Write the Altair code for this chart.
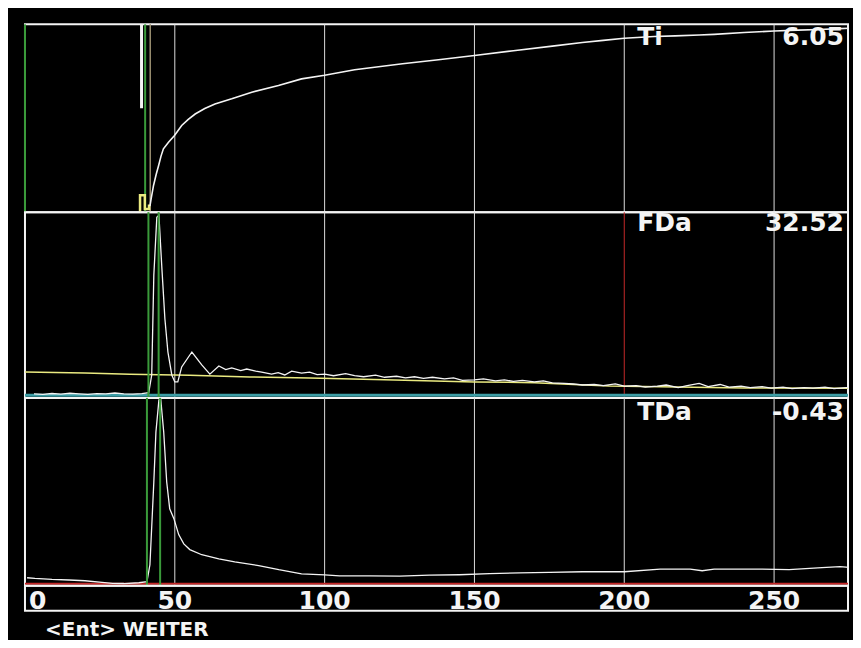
import altair as alt
import pandas as pd

# ---------------- data ----------------
GRID_TICKS = [50, 100, 150, 200, 250]
AXIS_TICKS = [0, 50, 100, 150, 200, 250]
X_DOMAIN = [0, 274.67]

TI_DOMAIN = [0, 6.2]
FDA_DOMAIN = [-0.5, 35.5]
TDA_DOMAIN = [-0.4, 36]
STRIP_DOMAIN = [0, 1]

# Ti (top panel)
TI_T = [41.7, 42.1, 42.9, 43.8, 44.6, 45.4, 46.2, 47.9, 49.9, 52.3, 54.5, 56.8, 60, 63.4,
        69, 75.7, 84.6, 92.3, 100, 110, 126, 138, 150, 163, 176, 186, 193, 200, 210, 217,
        225, 230, 240, 250, 258, 265, 272, 278.7]
TI_V = [0.2, 0.44, 0.88, 1.25, 1.54, 1.85, 2.09, 2.31, 2.53, 2.86, 3.06, 3.24, 3.42, 3.57,
        3.74, 3.96, 4.18, 4.40, 4.52, 4.70, 4.90, 5.03, 5.17, 5.33, 5.48, 5.60, 5.67, 5.74,
        5.80, 5.82, 5.85, 5.87, 5.93, 5.98, 6.01, 6.03, 6.06, 6.08]
TI_SPIKE_T = [38.9]
TI_SPIKE_LO = [3.43]
TI_SPIKE_HI = [6.2]
TI_PRE_T = [38.4, 38.4, 40.0, 40.0, 41.4, 41.4]
TI_PRE_V = [0.0, 0.56, 0.56, 0.1, 0.1, 0.25]
TI_MARK_GREEN = [0, 40.1]
TI_MARK_TAN = [41.8]

# FDa (middle panel)
FDA_T = [3, 6, 9, 12, 15, 18, 21, 24, 27, 30, 33, 36, 39, 41.3,
         42.3, 43, 44, 44.7, 45.7, 46.7, 47.7, 49, 50, 51, 52.3, 55.7, 59, 61.7, 64.7,
         67, 69, 72, 74, 77, 79, 82.3, 84.5, 86.7, 89, 92.3, 95, 97.5, 100, 103, 107,
         110, 113, 117, 120, 124, 127, 130, 133, 136, 140, 143, 146, 150, 153, 157, 160,
         163, 166, 170, 173, 176, 180, 183, 186, 190, 193, 197, 200, 204, 207, 211, 214,
         218, 221, 225, 228, 232, 235, 239, 242, 246, 249, 253, 256, 260, 263, 267, 270,
         274, 278.7]
FDA_V = [0.3, 0.2, 0.35, 0.25, 0.4, 0.3, 0.2, 0.35, 0.3, 0.45, 0.3, 0.25, 0.35, 0.5,
         3.95, 23.3, 34.5, 34.9, 24.5, 14.8, 8.4, 3.95, 2.6, 2.6, 5.5, 8.4, 5.9, 4.1, 5.7,
         5.0, 5.3, 4.8, 5.1, 4.7, 4.5, 4.1, 4.4, 3.95, 4.7, 4.3, 4.5, 4.0, 4.1, 3.8, 4.2,
         3.8, 3.6, 3.9, 3.5, 3.7, 3.4, 3.6, 3.3, 3.5, 3.2, 3.4, 2.9, 3.0, 3.2, 2.8, 3.0,
         2.7, 2.9, 2.6, 2.8, 2.4, 2.3, 2.2, 2.0, 2.1, 1.9, 2.2, 1.8, 1.9, 1.6, 1.8, 2.0,
         1.5, 1.9, 2.3, 1.7, 2.1, 1.6, 1.8, 1.5, 1.7, 1.4, 1.6, 1.3, 1.5, 1.4, 1.6, 1.3,
         1.5, 1.4]
FIT_T = [0, 20, 35, 55, 75, 95, 120, 150, 170, 185, 195, 240, 278.7]
FIT_V = [4.53, 4.34, 4.09, 3.89, 3.56, 3.37, 3.04, 2.60, 2.46, 2.07, 1.82, 1.44, 1.34]
FDA_ZERO = [0]
FDA_MARKS = [41.2, 44.6]
FDA_RED_TICK = 200

# TDa (bottom panel)
TDA_T = [0.7, 3.3, 9, 14.7, 20, 25.7, 29.3, 33, 38, 40.7, 41.7, 43, 43.7, 44.7, 45.3,
         46.3, 47.3, 48.3, 49.7, 51.3, 53, 55, 59, 64.7, 70, 78, 84.7, 92.3, 100, 105,
         115, 125, 135, 145, 155, 165, 175, 186, 200, 212, 222, 226, 230, 246, 255, 266,
         272, 276, 278.7]
TDA_V = [1.14, 1.0, 0.81, 0.70, 0.56, 0.23, 0.04, 0.02, 0.17, 0.37, 3.66, 19.7, 29.4, 35.6,
         35.8, 29.4, 19.7, 14.5, 12.6, 9.5, 7.7, 6.6, 5.6, 4.8, 4.2, 3.5, 2.7, 1.9, 1.7, 1.5,
         1.5, 1.47, 1.63, 1.72, 1.92, 2.1, 2.2, 2.3, 2.3, 2.8, 2.83, 2.5, 2.8, 2.8, 2.7, 3.1,
         3.3, 3.1, 2.9]
TDA_ZERO = [0]
TDA_MARKS = [40.7, 45.1]

# readouts
LABELS = ["Ti", "FDa", "TDa"]
VALUES = ["6.05", "32.52", "-0.43"]
LABEL_T = 204.3
VALUE_T = 273.3
LABEL_Y = [5.51, 31.8, 31.7]
TICK_LABEL_Y = 0.08
FOOTER = "<Ent> WEITER"
FOOTER_T = 6.7
FOOTER_Y = 0.0

# ---------------- style ----------------
W = 824
H_TI, H_FDA, H_TDA, H_AX, H_FOOT = 188, 186, 188, 25, 25
FONT = "DejaVu Sans"
WHITE = "#f4f4f4"
GRIDC = "#dcdcdc"
GREEN = "#3a9a3a"
TAN = "#9a8f70"
YELLOW = "#eaea80"
CYAN = "#3c9ca4"
RED = "#c42828"


def xs():
    return alt.Scale(domain=X_DOMAIN, nice=False, zero=False)


def ys(dom):
    return alt.Scale(domain=dom, nice=False, zero=False)


def X():
    return alt.X("t:Q", scale=xs(), axis=None)


def Y(dom, field="v"):
    return alt.Y(f"{field}:Q", scale=ys(dom), axis=None)


def grid(red_tick=None):
    d = pd.DataFrame({"t": GRID_TICKS})
    color = alt.value(GRIDC)
    if red_tick is not None:
        color = alt.condition(alt.datum.t == red_tick, alt.value(RED), alt.value(GRIDC))
    return alt.Chart(d).mark_rule(strokeWidth=1).encode(x=X(), color=color)


def readout(i, dom):
    d_lab = pd.DataFrame({"t": [LABEL_T], "v": [LABEL_Y[i]], "s": [LABELS[i]]})
    d_val = pd.DataFrame({"t": [VALUE_T], "v": [LABEL_Y[i]], "s": [VALUES[i]]})
    common = dict(font=FONT, fontSize=25, fontWeight="bold", color=WHITE, baseline="alphabetic")
    lab = alt.Chart(d_lab).mark_text(align="left", **common).encode(x=X(), y=Y(dom), text="s:N")
    val = alt.Chart(d_val).mark_text(align="right", **common).encode(x=X(), y=Y(dom), text="s:N")
    return [lab, val]


# ---- top panel: Ti ----
ti_line = alt.Chart(pd.DataFrame({"t": TI_T, "v": TI_V})).mark_line(
    color=WHITE, strokeWidth=1.6, clip=True).encode(x=X(), y=Y(TI_DOMAIN))
ti_green = alt.Chart(pd.DataFrame({"t": TI_MARK_GREEN})).mark_rule(color=GREEN, strokeWidth=2).encode(x=X())
ti_tan = alt.Chart(pd.DataFrame({"t": TI_MARK_TAN})).mark_rule(color=TAN, strokeWidth=1.5).encode(x=X())
ti_spike = alt.Chart(pd.DataFrame({"t": TI_SPIKE_T, "lo": TI_SPIKE_LO, "hi": TI_SPIKE_HI})).mark_rule(
    color=WHITE, strokeWidth=3).encode(x=X(), y=Y(TI_DOMAIN, "lo"), y2="hi:Q")
ti_pre = alt.Chart(pd.DataFrame({"t": TI_PRE_T, "v": TI_PRE_V, "o": list(range(len(TI_PRE_T)))})).mark_line(
    color=YELLOW, strokeWidth=2.5).encode(x=X(), y=Y(TI_DOMAIN), order="o:Q")
top = alt.layer(grid(), ti_green, ti_tan, ti_spike, ti_pre, ti_line, *readout(0, TI_DOMAIN)).properties(
    width=W, height=H_TI)

# ---- middle panel: FDa ----
fda_zero = alt.Chart(pd.DataFrame({"v": FDA_ZERO})).mark_rule(color=CYAN, strokeWidth=3).encode(y=Y(FDA_DOMAIN))
fda_fit = alt.Chart(pd.DataFrame({"t": FIT_T, "v": FIT_V})).mark_line(
    color=YELLOW, strokeWidth=1.5, clip=True).encode(x=X(), y=Y(FDA_DOMAIN))
fda_line = alt.Chart(pd.DataFrame({"t": FDA_T, "v": FDA_V})).mark_line(
    color=WHITE, strokeWidth=1.3, clip=True).encode(x=X(), y=Y(FDA_DOMAIN))
fda_marks = alt.Chart(pd.DataFrame({"t": FDA_MARKS})).mark_rule(color=GREEN, strokeWidth=2).encode(x=X())
mid = alt.layer(grid(FDA_RED_TICK), fda_fit, fda_zero, fda_line, fda_marks,
                *readout(1, FDA_DOMAIN)).properties(width=W, height=H_FDA)

# ---- bottom panel: TDa ----
tda_zero = alt.Chart(pd.DataFrame({"v": TDA_ZERO})).mark_rule(color=RED, strokeWidth=2).encode(y=Y(TDA_DOMAIN))
tda_line = alt.Chart(pd.DataFrame({"t": TDA_T, "v": TDA_V})).mark_line(
    color=WHITE, strokeWidth=1.3, clip=True).encode(x=X(), y=Y(TDA_DOMAIN))
tda_marks = alt.Chart(pd.DataFrame({"t": TDA_MARKS})).mark_rule(color=GREEN, strokeWidth=2).encode(x=X())
bot = alt.layer(grid(), tda_zero, tda_line, tda_marks, *readout(2, TDA_DOMAIN)).properties(
    width=W, height=H_TDA)

# ---- tick label strip ----
tick_df = pd.DataFrame({"t": AXIS_TICKS, "v": [TICK_LABEL_Y] * len(AXIS_TICKS),
                        "s": [str(v) for v in AXIS_TICKS]})
tick_common = dict(font=FONT, fontSize=25, fontWeight="bold", color=WHITE, baseline="alphabetic")
tick_first = alt.Chart(tick_df.iloc[:1]).mark_text(align="left", dx=4, **tick_common).encode(
    x=X(), y=Y(STRIP_DOMAIN), text="s:N")
tick_rest = alt.Chart(tick_df.iloc[1:]).mark_text(align="center", **tick_common).encode(
    x=X(), y=Y(STRIP_DOMAIN), text="s:N")
strip = alt.layer(tick_first, tick_rest).properties(width=W, height=H_AX)

# ---- footer ----
foot = alt.Chart(pd.DataFrame({"t": [FOOTER_T], "v": [FOOTER_Y], "s": [FOOTER]})).mark_text(
    align="left", baseline="alphabetic", font=FONT, fontSize=20, fontWeight="bold", color=WHITE).encode(
    x=X(), y=Y(STRIP_DOMAIN), text="s:N").properties(
    width=W, height=H_FOOT, view=alt.ViewBackground(stroke="transparent", strokeWidth=0))

chart = alt.vconcat(top, mid, bot, strip, foot, spacing=0, bounds="flush").resolve_scale(
    x="independent", y="independent").properties(
    padding={"left": 14, "top": 13, "right": 2, "bottom": 0},
).configure(background="black").configure_view(stroke=WHITE, strokeWidth=2)

chart.save("out.html", embed_options={"renderer": "svg", "actions": False})
